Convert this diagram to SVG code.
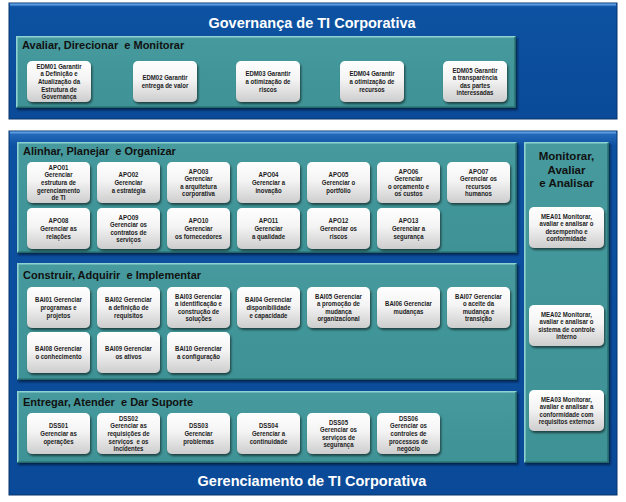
<svg xmlns="http://www.w3.org/2000/svg" width="626" height="502" viewBox="0 0 626 502">
  <defs>
    <linearGradient id="blueFill" x1="0" y1="0" x2="0" y2="1">
      <stop offset="0" stop-color="#2a6fc0"/>
      <stop offset="0.04" stop-color="#0d52a2"/>
      <stop offset="1" stop-color="#0a4a98"/>
    </linearGradient>
    <linearGradient id="tealFill" x1="0" y1="0" x2="0" y2="1">
      <stop offset="0" stop-color="#469a9d"/>
      <stop offset="1" stop-color="#3e9295"/>
    </linearGradient>
    <linearGradient id="boxFill" x1="0" y1="0" x2="0" y2="1">
      <stop offset="0" stop-color="#ffffff"/>
      <stop offset="0.45" stop-color="#f4f4f4"/>
      <stop offset="1" stop-color="#cdcdcd"/>
    </linearGradient>
    <filter id="boxShadow" x="-20%" y="-20%" width="140%" height="150%">
      <feDropShadow dx="1.2" dy="2" stdDeviation="1.2" flood-color="#000" flood-opacity="0.55"/>
    </filter>
    <filter id="panelShadow" x="-5%" y="-5%" width="110%" height="115%">
      <feDropShadow dx="1.5" dy="2" stdDeviation="1.2" flood-color="#01112a" flood-opacity="0.7"/>
    </filter>
  </defs>
  <style>
    .blue { fill: url(#blueFill); stroke: #06356f; stroke-width: 1; }
    .blueHi { fill: none; stroke: #5d9be0; stroke-width: 2; }
    .teal { fill: url(#tealFill); filter: url(#panelShadow); }
    .tealHi { fill: none; stroke: #8fd2d2; stroke-width: 1.6; }
    .tealLo { fill: none; stroke: #24686b; stroke-width: 1.6; }
    .box { fill: url(#boxFill); filter: url(#boxShadow); }
    .bt { font-family: "Liberation Sans", Arial, sans-serif; font-size: 7.2px; font-weight: bold; fill: #1c1c1c; text-anchor: middle; white-space: pre; }
    .ph { font-family: "Liberation Sans", Arial, sans-serif; font-size: 11px; font-weight: bold; fill: #111; white-space: pre; }
    .mh { font-family: "Liberation Sans", Arial, sans-serif; font-size: 11.5px; font-weight: bold; fill: #111; text-anchor: middle; }
    .big { font-family: "Liberation Sans", Arial, sans-serif; font-size: 14.5px; font-weight: bold; fill: #fff; text-anchor: middle; }
  </style>

  <rect width="626" height="502" fill="#fff"/>

  <!-- Governança panel -->
  <g id="governanca">
    <rect class="blue" x="9" y="3" width="608" height="116"/>
    <line class="blueHi" x1="10" y1="4.5" x2="616" y2="4.5"/>
    <text class="big" x="312" y="28">Governança de TI Corporativa</text>
  </g>

  <g id="edm">
    <rect class="teal" x="16" y="36" width="500" height="72"/>
    <polyline class="tealHi" points="16.8,107 16.8,36.8 515,36.8"/>
    <polyline class="tealLo" points="17,107.2 515.2,107.2 515.2,37"/>
    <text class="ph" x="22" y="49">Avaliar, Direcionar  e Monitorar</text>
  </g>

  <g id="edm01"><rect class="box" x="27" y="61" width="64" height="41" rx="5"/>
    <text class="bt" transform="translate(59 0) scale(0.84 1)"><tspan x="0" y="68.9">EDM01 Garantir</tspan><tspan x="0" y="76.5">a Definição e</tspan><tspan x="0" y="84.1">Atualização da</tspan><tspan x="0" y="91.7">Estrutura de</tspan><tspan x="0" y="99.3">Governança</tspan></text></g>
  <g id="edm02"><rect class="box" x="133" y="61" width="64" height="41" rx="5"/>
    <text class="bt" transform="translate(165 0) scale(0.84 1)"><tspan x="0" y="80.3">EDM02 Garantir</tspan><tspan x="0" y="87.9">entrega de valor</tspan></text></g>
  <g id="edm03"><rect class="box" x="236" y="61" width="64" height="41" rx="5"/>
    <text class="bt" transform="translate(268 0) scale(0.84 1)"><tspan x="0" y="76.5">EDM03 Garantir</tspan><tspan x="0" y="84.1">a otimização de</tspan><tspan x="0" y="91.7">riscos</tspan></text></g>
  <g id="edm04"><rect class="box" x="340" y="61" width="64" height="41" rx="5"/>
    <text class="bt" transform="translate(372 0) scale(0.84 1)"><tspan x="0" y="76.5">EDM04 Garantir</tspan><tspan x="0" y="84.1">a otimização de</tspan><tspan x="0" y="91.7">recursos</tspan></text></g>
  <g id="edm05"><rect class="box" x="443" y="61" width="64" height="41" rx="5"/>
    <text class="bt" transform="translate(475 0) scale(0.84 1)"><tspan x="0" y="72.7">EDM05 Garantir</tspan><tspan x="0" y="80.3">a transparência</tspan><tspan x="0" y="87.9">das partes</tspan><tspan x="0" y="95.5">interessadas</tspan></text></g>

  <!-- Gerenciamento panel -->
  <g id="gerenciamento">
    <rect class="blue" x="9" y="131" width="608" height="364"/>
    <line class="blueHi" x1="10" y1="132.5" x2="616" y2="132.5"/>
    <text class="big" x="312" y="486">Gerenciamento de TI Corporativa</text>
  </g>

  <g id="apo">
    <rect class="teal" x="17" y="142" width="500" height="111"/>
    <polyline class="tealHi" points="17.8,252 17.8,142.8 516,142.8"/>
    <polyline class="tealLo" points="18,252.2 516.2,252.2 516.2,143"/>
    <text class="ph" x="23" y="155">Alinhar, Planejar  e Organizar</text>
  </g>

  <g id="apo01"><rect class="box" x="27" y="162" width="63" height="41" rx="5"/>
    <text class="bt" transform="translate(58.5 0) scale(0.84 1)"><tspan x="0" y="169.9">APO01</tspan><tspan x="0" y="177.5">Gerenciar</tspan><tspan x="0" y="185.1">estrutura de</tspan><tspan x="0" y="192.7">gerenciamento</tspan><tspan x="0" y="200.3">de TI</tspan></text></g>
  <g id="apo02"><rect class="box" x="97" y="162" width="63" height="41" rx="5"/>
    <text class="bt" transform="translate(128.5 0) scale(0.84 1)"><tspan x="0" y="177.5">APO02</tspan><tspan x="0" y="185.1">Gerenciar</tspan><tspan x="0" y="192.7">a estratégia</tspan></text></g>
  <g id="apo03"><rect class="box" x="167" y="162" width="63" height="41" rx="5"/>
    <text class="bt" transform="translate(198.5 0) scale(0.84 1)"><tspan x="0" y="173.7">APO03</tspan><tspan x="0" y="181.3">Gerenciar</tspan><tspan x="0" y="188.9">a arquitetura</tspan><tspan x="0" y="196.5">corporativa</tspan></text></g>
  <g id="apo04"><rect class="box" x="237" y="162" width="63" height="41" rx="5"/>
    <text class="bt" transform="translate(268.5 0) scale(0.84 1)"><tspan x="0" y="177.5">APO04</tspan><tspan x="0" y="185.1">Gerenciar a</tspan><tspan x="0" y="192.7">inovação</tspan></text></g>
  <g id="apo05"><rect class="box" x="307" y="162" width="63" height="41" rx="5"/>
    <text class="bt" transform="translate(338.5 0) scale(0.84 1)"><tspan x="0" y="177.5">APO05</tspan><tspan x="0" y="185.1">Gerenciar o</tspan><tspan x="0" y="192.7">portfólio</tspan></text></g>
  <g id="apo06"><rect class="box" x="377" y="162" width="63" height="41" rx="5"/>
    <text class="bt" transform="translate(408.5 0) scale(0.84 1)"><tspan x="0" y="173.7">APO06</tspan><tspan x="0" y="181.3">Gerenciar</tspan><tspan x="0" y="188.9">o orçamento e</tspan><tspan x="0" y="196.5">os custos</tspan></text></g>
  <g id="apo07"><rect class="box" x="447" y="162" width="63" height="41" rx="5"/>
    <text class="bt" transform="translate(478.5 0) scale(0.84 1)"><tspan x="0" y="173.7">APO07</tspan><tspan x="0" y="181.3">Gerenciar os</tspan><tspan x="0" y="188.9">recursos</tspan><tspan x="0" y="196.5">humanos</tspan></text></g>
  <g id="apo08"><rect class="box" x="27" y="208" width="63" height="41" rx="5"/>
    <text class="bt" transform="translate(58.5 0) scale(0.84 1)"><tspan x="0" y="223.5">APO08</tspan><tspan x="0" y="231.1">Gerenciar as</tspan><tspan x="0" y="238.7">relações</tspan></text></g>
  <g id="apo09"><rect class="box" x="97" y="208" width="63" height="41" rx="5"/>
    <text class="bt" transform="translate(128.5 0) scale(0.84 1)"><tspan x="0" y="219.7">APO09</tspan><tspan x="0" y="227.3">Gerenciar os</tspan><tspan x="0" y="234.9">contratos de</tspan><tspan x="0" y="242.5">serviços</tspan></text></g>
  <g id="apo10"><rect class="box" x="167" y="208" width="63" height="41" rx="5"/>
    <text class="bt" transform="translate(198.5 0) scale(0.84 1)"><tspan x="0" y="223.5">APO10</tspan><tspan x="0" y="231.1">Gerenciar</tspan><tspan x="0" y="238.7">os fornecedores</tspan></text></g>
  <g id="apo11"><rect class="box" x="237" y="208" width="63" height="41" rx="5"/>
    <text class="bt" transform="translate(268.5 0) scale(0.84 1)"><tspan x="0" y="223.5">APO11</tspan><tspan x="0" y="231.1">Gerenciar</tspan><tspan x="0" y="238.7">a qualidade</tspan></text></g>
  <g id="apo12"><rect class="box" x="307" y="208" width="63" height="41" rx="5"/>
    <text class="bt" transform="translate(338.5 0) scale(0.84 1)"><tspan x="0" y="223.5">APO12</tspan><tspan x="0" y="231.1">Gerenciar os</tspan><tspan x="0" y="238.7">riscos</tspan></text></g>
  <g id="apo13"><rect class="box" x="377" y="208" width="63" height="41" rx="5"/>
    <text class="bt" transform="translate(408.5 0) scale(0.84 1)"><tspan x="0" y="223.5">APO13</tspan><tspan x="0" y="231.1">Gerenciar a</tspan><tspan x="0" y="238.7">segurança</tspan></text></g>

  <g id="bai">
    <rect class="teal" x="17" y="263" width="500" height="117"/>
    <polyline class="tealHi" points="17.8,379 17.8,263.8 516,263.8"/>
    <polyline class="tealLo" points="18,379.2 516.2,379.2 516.2,264"/>
    <text class="ph" x="23" y="279">Construir, Adquirir  e Implementar</text>
  </g>

  <g id="bai01"><rect class="box" x="27" y="287" width="63" height="41" rx="5"/>
    <text class="bt" transform="translate(58.5 0) scale(0.84 1)"><tspan x="0" y="302.5">BAI01 Gerenciar</tspan><tspan x="0" y="310.1">programas e</tspan><tspan x="0" y="317.7">projetos</tspan></text></g>
  <g id="bai02"><rect class="box" x="97" y="287" width="63" height="41" rx="5"/>
    <text class="bt" transform="translate(128.5 0) scale(0.84 1)"><tspan x="0" y="302.5">BAI02 Gerenciar</tspan><tspan x="0" y="310.1">a definição de</tspan><tspan x="0" y="317.7">requisitos</tspan></text></g>
  <g id="bai03"><rect class="box" x="167" y="287" width="63" height="41" rx="5"/>
    <text class="bt" transform="translate(198.5 0) scale(0.84 1)"><tspan x="0" y="298.7">BAI03 Gerenciar</tspan><tspan x="0" y="306.3">a identificação e</tspan><tspan x="0" y="313.9">construção de</tspan><tspan x="0" y="321.5">soluções</tspan></text></g>
  <g id="bai04"><rect class="box" x="237" y="287" width="63" height="41" rx="5"/>
    <text class="bt" transform="translate(268.5 0) scale(0.84 1)"><tspan x="0" y="302.5">BAI04 Gerenciar</tspan><tspan x="0" y="310.1">disponibilidade</tspan><tspan x="0" y="317.7">e capacidade</tspan></text></g>
  <g id="bai05"><rect class="box" x="307" y="287" width="63" height="41" rx="5"/>
    <text class="bt" transform="translate(338.5 0) scale(0.84 1)"><tspan x="0" y="298.7">BAI05 Gerenciar</tspan><tspan x="0" y="306.3">a promoção de</tspan><tspan x="0" y="313.9">mudança</tspan><tspan x="0" y="321.5">organizacional</tspan></text></g>
  <g id="bai06"><rect class="box" x="377" y="287" width="63" height="41" rx="5"/>
    <text class="bt" transform="translate(408.5 0) scale(0.84 1)"><tspan x="0" y="306.3">BAI06 Gerenciar</tspan><tspan x="0" y="313.9">mudanças</tspan></text></g>
  <g id="bai07"><rect class="box" x="447" y="287" width="63" height="41" rx="5"/>
    <text class="bt" transform="translate(478.5 0) scale(0.84 1)"><tspan x="0" y="298.7">BAI07 Gerenciar</tspan><tspan x="0" y="306.3">o aceite da</tspan><tspan x="0" y="313.9">mudança e</tspan><tspan x="0" y="321.5">transição</tspan></text></g>
  <g id="bai08"><rect class="box" x="27" y="332" width="63" height="41" rx="5"/>
    <text class="bt" transform="translate(58.5 0) scale(0.84 1)"><tspan x="0" y="351.3">BAI08 Gerenciar</tspan><tspan x="0" y="358.9">o conhecimento</tspan></text></g>
  <g id="bai09"><rect class="box" x="97" y="332" width="63" height="41" rx="5"/>
    <text class="bt" transform="translate(128.5 0) scale(0.84 1)"><tspan x="0" y="351.3">BAI09 Gerenciar</tspan><tspan x="0" y="358.9">os ativos</tspan></text></g>
  <g id="bai10"><rect class="box" x="167" y="332" width="63" height="41" rx="5"/>
    <text class="bt" transform="translate(198.5 0) scale(0.84 1)"><tspan x="0" y="351.3">BAI10 Gerenciar</tspan><tspan x="0" y="358.9">a configuração</tspan></text></g>

  <g id="dss">
    <rect class="teal" x="17" y="391" width="500" height="72"/>
    <polyline class="tealHi" points="17.8,462 17.8,391.8 516,391.8"/>
    <polyline class="tealLo" points="18,462.2 516.2,462.2 516.2,392"/>
    <text class="ph" x="23" y="406">Entregar, Atender  e Dar Suporte</text>
  </g>

  <g id="dss01"><rect class="box" x="27" y="413" width="63" height="41" rx="5"/>
    <text class="bt" transform="translate(58.5 0) scale(0.84 1)"><tspan x="0" y="428.5">DSS01</tspan><tspan x="0" y="436.1">Gerenciar as</tspan><tspan x="0" y="443.7">operações</tspan></text></g>
  <g id="dss02"><rect class="box" x="97" y="413" width="63" height="41" rx="5"/>
    <text class="bt" transform="translate(128.5 0) scale(0.84 1)"><tspan x="0" y="420.9">DSS02</tspan><tspan x="0" y="428.5">Gerenciar as</tspan><tspan x="0" y="436.1">requisições de</tspan><tspan x="0" y="443.7">serviços  e os</tspan><tspan x="0" y="451.3">incidentes</tspan></text></g>
  <g id="dss03"><rect class="box" x="167" y="413" width="63" height="41" rx="5"/>
    <text class="bt" transform="translate(198.5 0) scale(0.84 1)"><tspan x="0" y="428.5">DSS03</tspan><tspan x="0" y="436.1">Gerenciar</tspan><tspan x="0" y="443.7">problemas</tspan></text></g>
  <g id="dss04"><rect class="box" x="237" y="413" width="63" height="41" rx="5"/>
    <text class="bt" transform="translate(268.5 0) scale(0.84 1)"><tspan x="0" y="428.5">DSS04</tspan><tspan x="0" y="436.1">Gerenciar a</tspan><tspan x="0" y="443.7">continuidade</tspan></text></g>
  <g id="dss05"><rect class="box" x="307" y="413" width="63" height="41" rx="5"/>
    <text class="bt" transform="translate(338.5 0) scale(0.84 1)"><tspan x="0" y="424.7">DSS05</tspan><tspan x="0" y="432.3">Gerenciar os</tspan><tspan x="0" y="439.9">serviços de</tspan><tspan x="0" y="447.5">segurança</tspan></text></g>
  <g id="dss06"><rect class="box" x="377" y="413" width="63" height="41" rx="5"/>
    <text class="bt" transform="translate(408.5 0) scale(0.84 1)"><tspan x="0" y="420.9">DSS06</tspan><tspan x="0" y="428.5">Gerenciar os</tspan><tspan x="0" y="436.1">controles de</tspan><tspan x="0" y="443.7">processos de</tspan><tspan x="0" y="451.3">negócio</tspan></text></g>

  <g id="mea">
    <rect class="teal" x="524" y="142" width="85" height="321"/>
    <polyline class="tealHi" points="524.8,462 524.8,142.8 608,142.8"/>
    <polyline class="tealLo" points="525,462.2 608.2,462.2 608.2,143"/>
    <text class="mh"><tspan x="566.5" y="160">Monitorar,</tspan><tspan x="566.5" y="173.5">Avaliar</tspan><tspan x="566.5" y="187">e Analisar</tspan></text>
  </g>

  <g id="mea01"><rect class="box" x="529" y="207" width="75" height="41" rx="5"/>
    <text class="bt" transform="translate(566.5 0) scale(0.84 1)"><tspan x="0" y="218.7">MEA01 Monitorar,</tspan><tspan x="0" y="226.3">avaliar e analisar o</tspan><tspan x="0" y="233.9">desempenho e</tspan><tspan x="0" y="241.5">conformidade</tspan></text></g>
  <g id="mea02"><rect class="box" x="529" y="305" width="75" height="41" rx="5"/>
    <text class="bt" transform="translate(566.5 0) scale(0.84 1)"><tspan x="0" y="316.7">MEA02 Monitorar,</tspan><tspan x="0" y="324.3">avaliar e analisar o</tspan><tspan x="0" y="331.9">sistema de controle</tspan><tspan x="0" y="339.5">interno</tspan></text></g>
  <g id="mea03"><rect class="box" x="529" y="390" width="75" height="41" rx="5"/>
    <text class="bt" transform="translate(566.5 0) scale(0.84 1)"><tspan x="0" y="401.7">MEA03 Monitorar,</tspan><tspan x="0" y="409.3">avaliar e analisar a</tspan><tspan x="0" y="416.9">conformidade com</tspan><tspan x="0" y="424.5">requisitos externos</tspan></text></g>
</svg>
